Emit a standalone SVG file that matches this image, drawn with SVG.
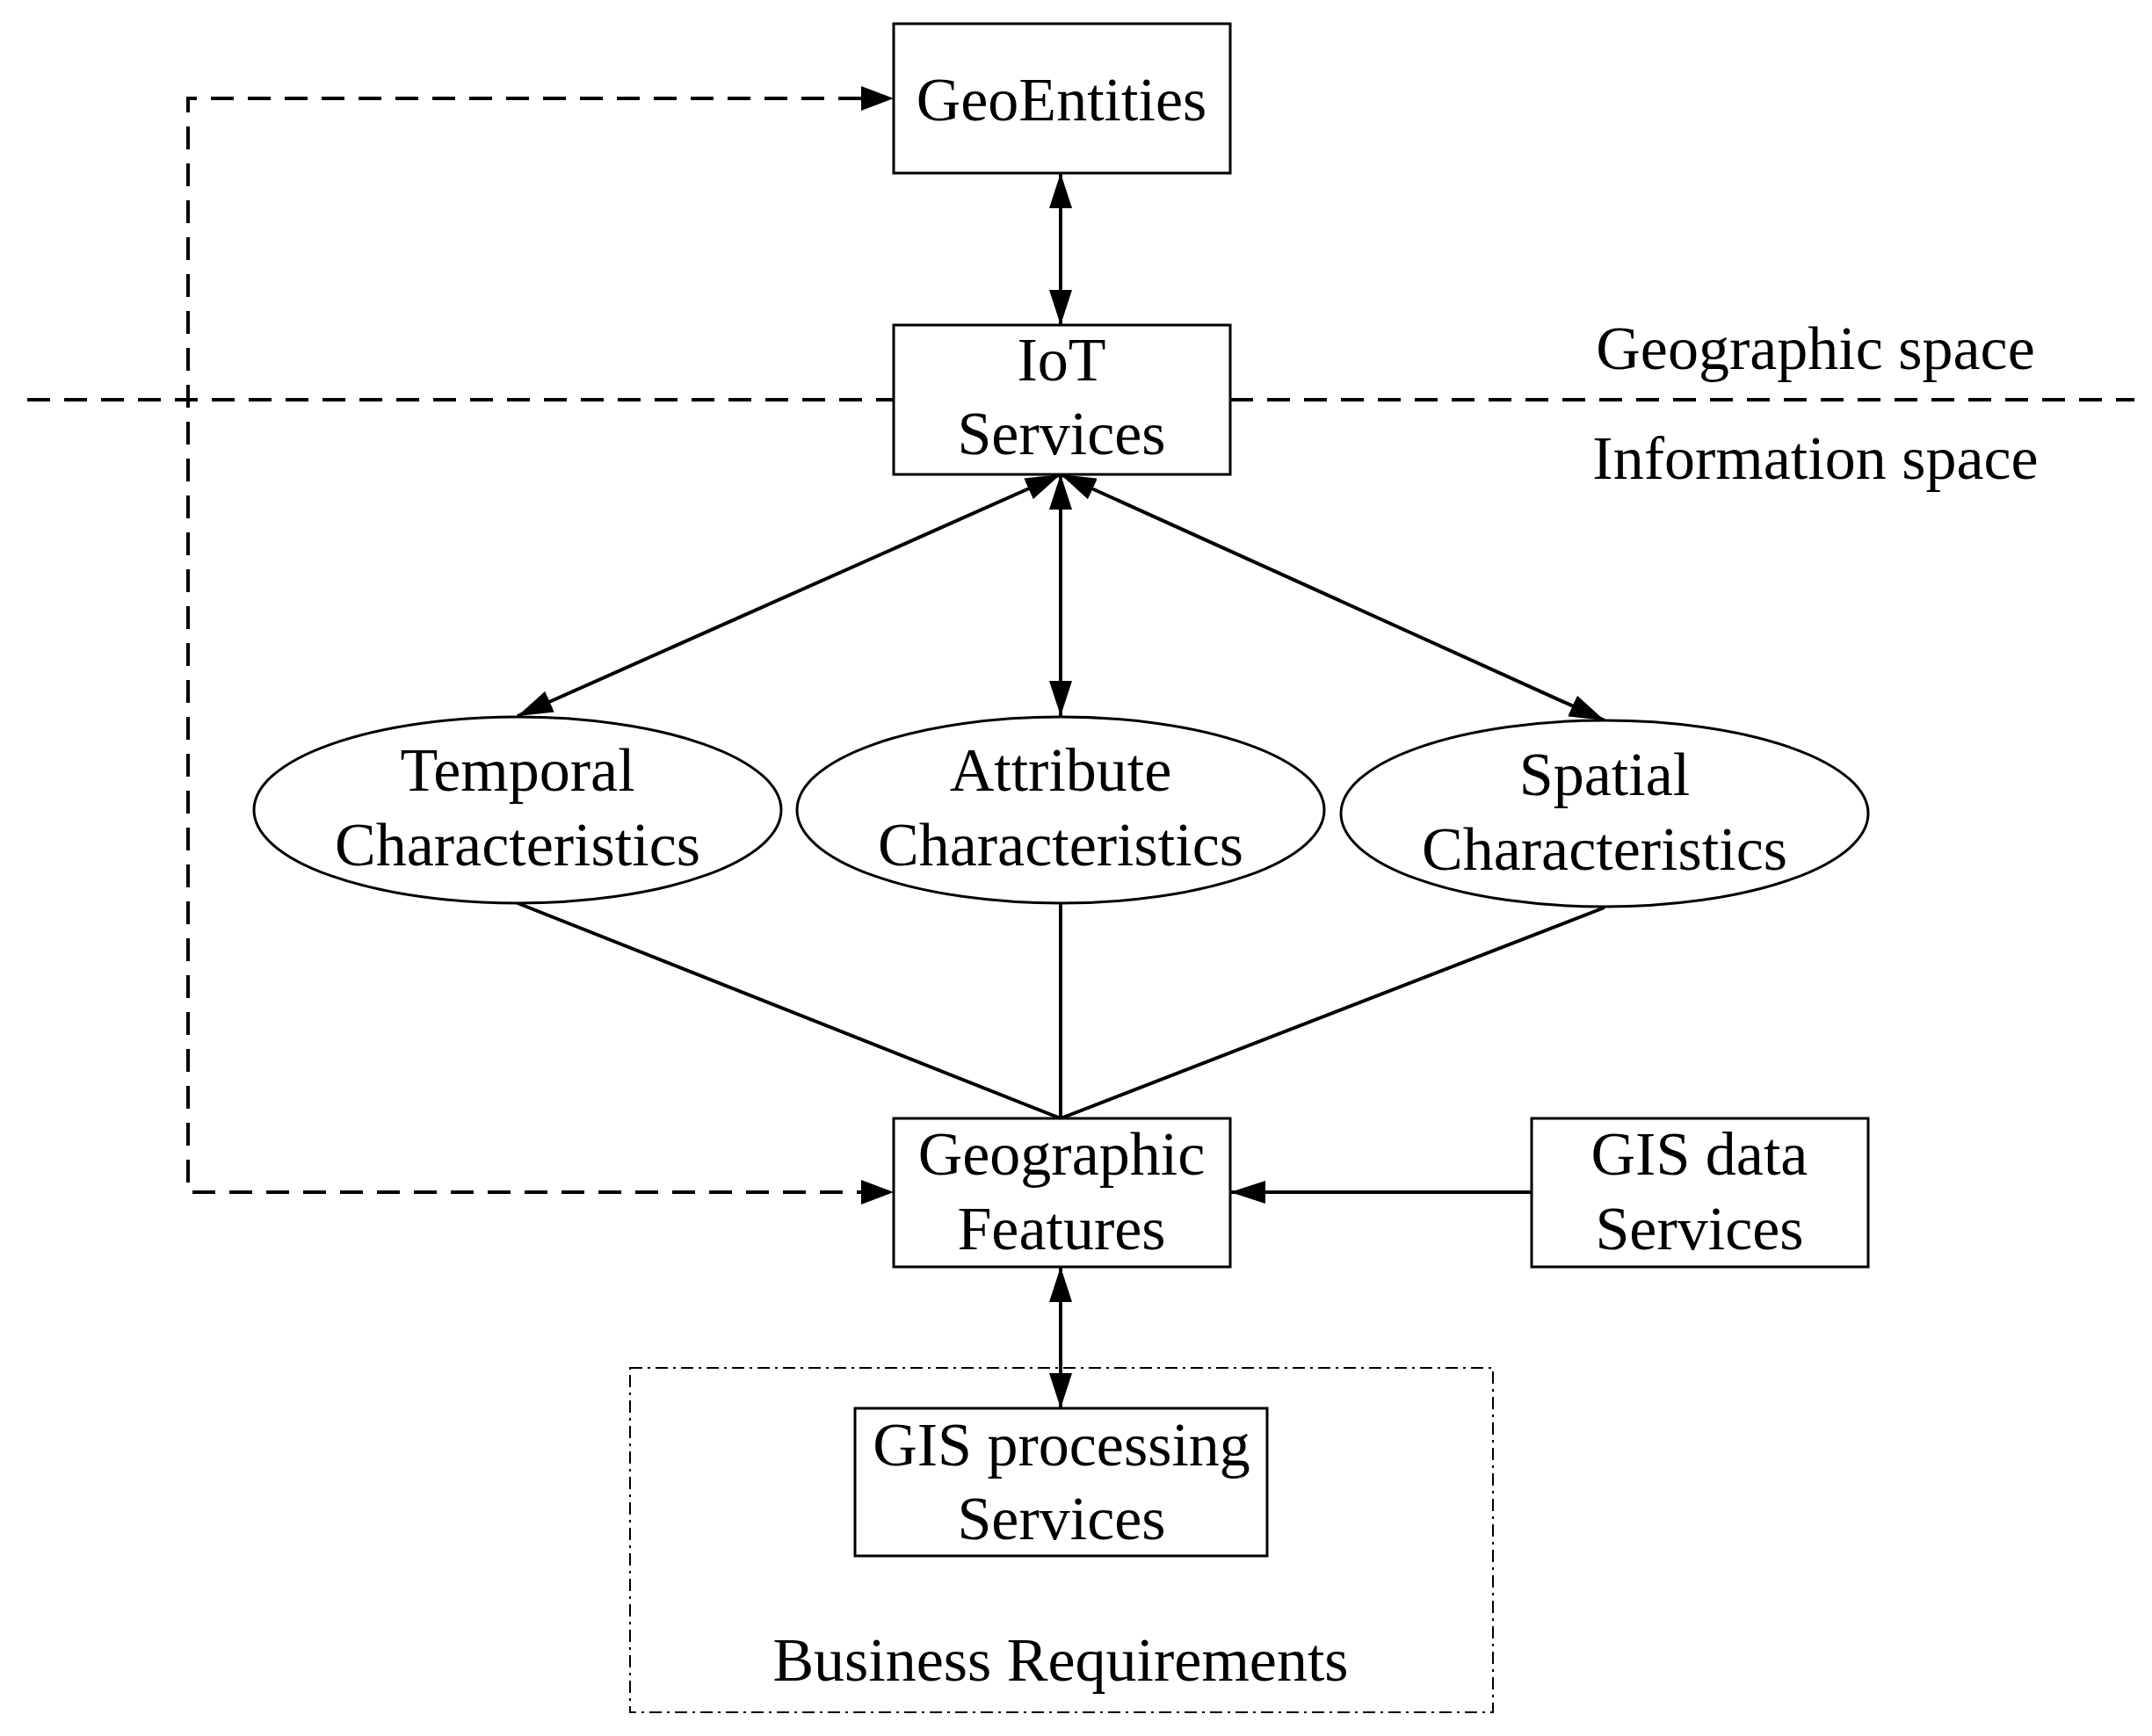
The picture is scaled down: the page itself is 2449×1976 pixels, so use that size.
<svg xmlns="http://www.w3.org/2000/svg" width="2449" height="1976" viewBox="0 0 2449 1976">
<style>
.b{fill:#fff;stroke:#000;stroke-width:3}
.t{font-family:"Liberation Serif",serif;font-size:70px;text-anchor:middle;fill:#000}
.c{stroke:#000;stroke-width:4;fill:none}
.d{stroke:#000;stroke-width:4;fill:none;stroke-dasharray:26 16}
</style>
<defs>
<marker id="a" viewBox="0 0 10 10" refX="10" refY="5" markerWidth="10" markerHeight="8" markerUnits="userSpaceOnUse" orient="auto-start-reverse"><path d="M0,0L10,5L0,10z"/></marker>
<marker id="m" viewBox="0 0 10 10" refX="10" refY="5" markerWidth="40" markerHeight="26" markerUnits="userSpaceOnUse" orient="auto-start-reverse" preserveAspectRatio="none"><path d="M0,0L10,5L0,10z"/></marker>
</defs>
<line class="d" x1="31" y1="455" x2="1017" y2="455"/>
<line class="d" x1="1400" y1="455" x2="2429" y2="455"/>
<text class="t" x="2066" y="420">Geographic space</text>
<text class="t" x="2066" y="545">Information space</text>
<g id="connectors">
<path class="d" d="M980,112H214V1357H980" style="stroke-dasharray:26 16"/>
<path d="M980,98L1017,112L980,126z M980,1343L1017,1357L980,1371z"/>
<line class="c" x1="1207" y1="197" x2="1207" y2="370" marker-start="url(#m)" marker-end="url(#m)"/>
<line class="c" x1="1207" y1="540" x2="589" y2="815" marker-start="url(#m)" marker-end="url(#m)"/>
<line class="c" x1="1207" y1="540" x2="1207" y2="815" marker-start="url(#m)" marker-end="url(#m)"/>
<line class="c" x1="1207" y1="540" x2="1826" y2="820" marker-start="url(#m)" marker-end="url(#m)"/>
<line class="c" x1="589" y1="1028" x2="1207" y2="1273"/>
<line class="c" x1="1207" y1="1028" x2="1207" y2="1273"/>
<line class="c" x1="1826" y1="1033" x2="1207" y2="1273"/>
<line class="c" x1="1743" y1="1357" x2="1400" y2="1357" marker-end="url(#m)"/>
<line class="c" x1="1207" y1="1442" x2="1207" y2="1603" marker-start="url(#m)" marker-end="url(#m)"/>
</g>
<g id="geoentities"><rect class="b" x="1017" y="27" width="383" height="170"/><text class="t" x="1208" y="137">GeoEntities</text></g>
<g id="iot"><rect class="b" x="1017" y="370" width="383" height="170"/><text class="t" x="1208" y="433">IoT</text><text class="t" x="1208" y="517">Services</text></g>
<g id="temporal"><ellipse class="b" cx="589" cy="922" rx="300" ry="106"/><text class="t" x="589" y="900">Temporal</text><text class="t" x="589" y="985">Characteristics</text></g>
<g id="attribute"><ellipse class="b" cx="1207" cy="922" rx="300" ry="106"/><text class="t" x="1207" y="900">Attribute</text><text class="t" x="1207" y="985">Characteristics</text></g>
<g id="spatial"><ellipse class="b" cx="1826" cy="926" rx="300" ry="106"/><text class="t" x="1826" y="905">Spatial</text><text class="t" x="1826" y="990">Characteristics</text></g>
<g id="features"><rect class="b" x="1017" y="1273" width="383" height="169"/><text class="t" x="1208" y="1337">Geographic</text><text class="t" x="1208" y="1422">Features</text></g>
<g id="gisdata"><rect class="b" x="1743" y="1273" width="383" height="169"/><text class="t" x="1934" y="1337">GIS data</text><text class="t" x="1934" y="1422">Services</text></g>
<g id="business"><rect x="717" y="1557" width="982" height="392" fill="none" stroke="#000" stroke-width="2" stroke-dasharray="14 6 3 6"/><text class="t" x="1207" y="1913">Business Requirements</text></g>
<g id="gisproc"><rect class="b" x="973" y="1603" width="469" height="168"/><text class="t" x="1208" y="1668">GIS processing</text><text class="t" x="1208" y="1752">Services</text></g>
</svg>
